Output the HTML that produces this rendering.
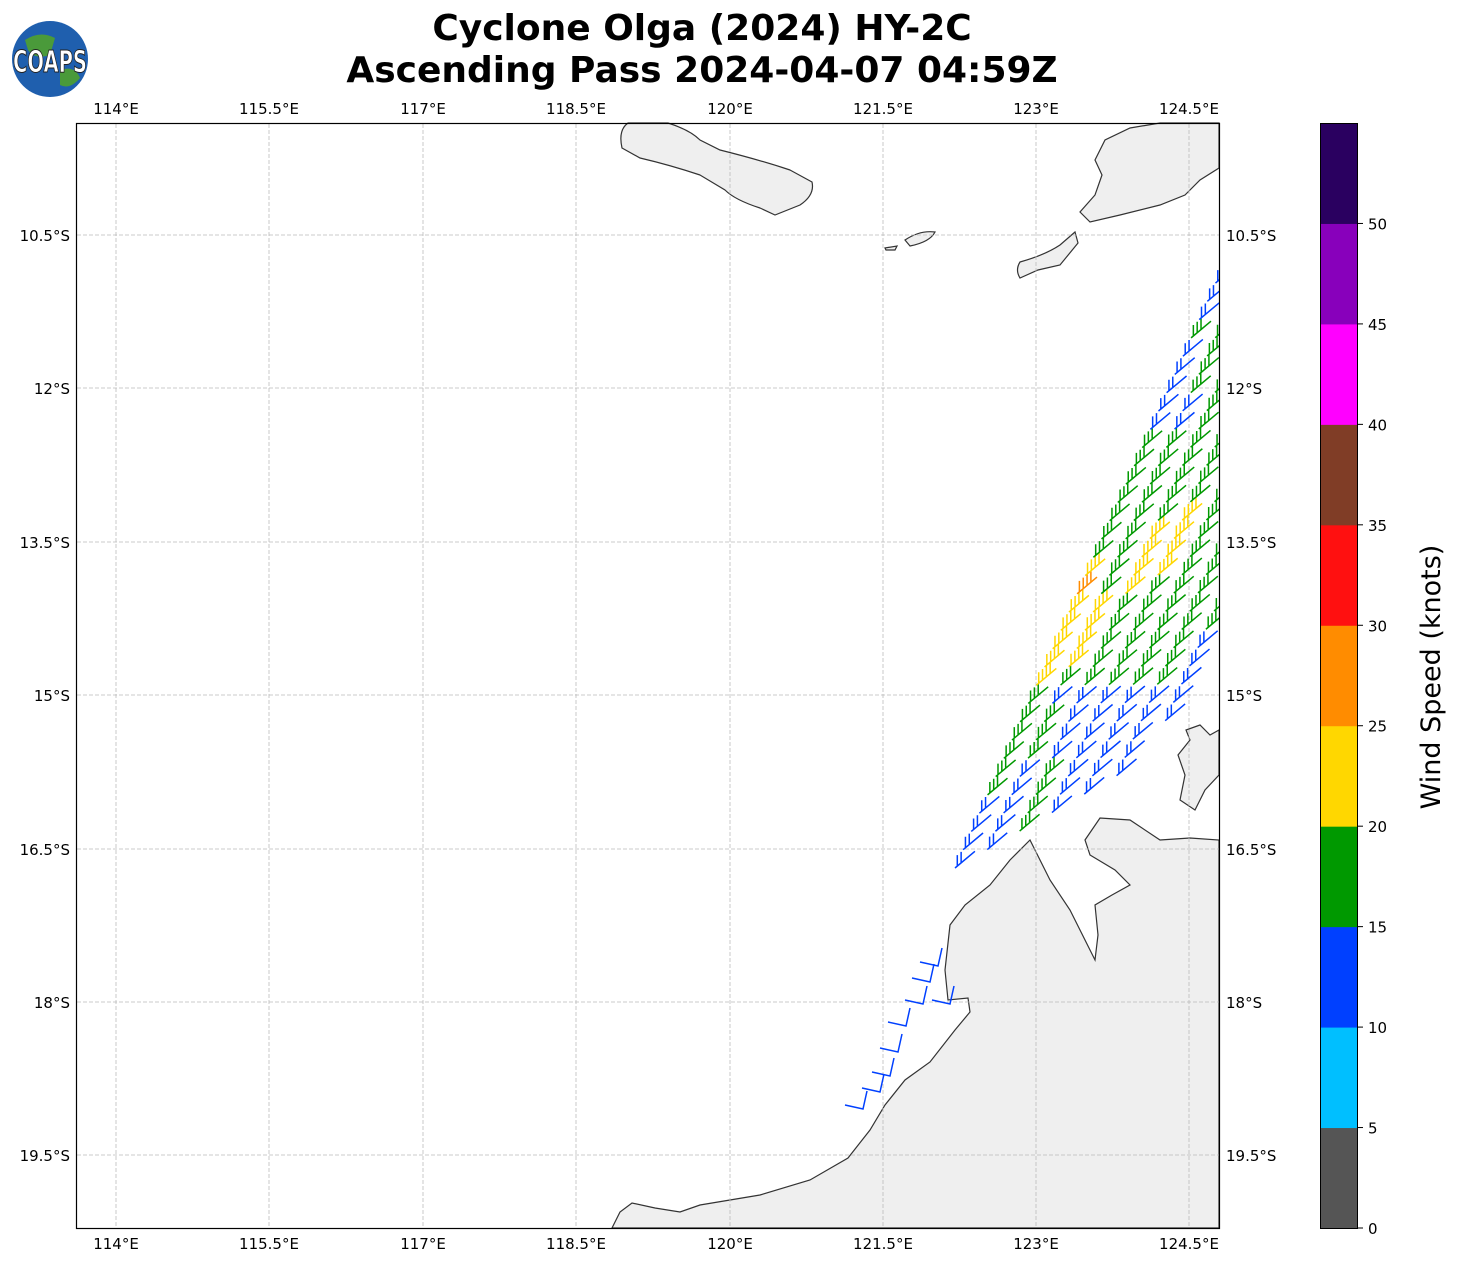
<!DOCTYPE html>
<html><head><meta charset="utf-8"><style>
body{margin:0;background:#fff;width:1457px;height:1264px;overflow:hidden;font-family:"DejaVu Sans",sans-serif}
</style></head><body>
<svg id="s" width="1457" height="1264" xmlns="http://www.w3.org/2000/svg" font-family="DejaVu Sans, sans-serif">
<defs><clipPath id="mc"><rect x="77" y="124" width="1142" height="1104"/></clipPath></defs>
<circle cx="50" cy="59" r="38" fill="#1f5fae"/>
<path d="M25 40 Q40 30 55 38 L50 55 Q35 60 28 50Z M60 70 Q75 65 80 78 Q70 90 60 85Z" fill="#4a9a3a"/>
<text x="50" y="72" font-size="30" font-weight="bold" fill="#fff" stroke="#222" stroke-width="1" text-anchor="middle" textLength="74" lengthAdjust="spacingAndGlyphs">COAPS</text>
<text x="702" y="40" font-size="36" font-weight="bold" text-anchor="middle">Cyclone Olga (2024) HY-2C</text>
<text x="702" y="82" font-size="36" font-weight="bold" text-anchor="middle">Ascending Pass 2024-04-07 04:59Z</text>
<g fill="#efefef" stroke="#333" stroke-width="1.2">
<path d="M628 123 L668 123 Q690 130 700 140 L720 150 Q760 160 790 170 L812 182 Q815 195 800 205 L775 215 L760 208 Q735 200 725 190 L700 175 Q670 165 640 158 L622 148 Q618 130 628 123Z"/>
<path d="M1160 123 L1219 123 L1219 168 L1200 180 L1185 195 L1160 205 L1120 215 L1090 222 L1080 212 L1095 195 L1102 175 L1095 160 L1105 140 L1130 128Z"/>
<path d="M905 240 Q920 230 935 232 Q930 242 910 246Z"/>
<path d="M885 248 L897 246 L895 250 L886 250Z"/>
<path d="M1020 262 Q1045 255 1060 245 L1075 232 L1078 243 L1060 265 L1038 270 L1020 278 Q1015 270 1020 262Z"/>
<path d="M612 1228 L620 1212 L632 1203 L655 1208 L680 1212 L700 1205 L760 1195 L810 1180 L848 1158 L870 1130 L885 1105 L905 1080 L930 1062 L955 1030 L970 1012 L968 998 L948 1000 L945 970 L950 925 L965 905 L990 885 L1010 860 L1030 840 L1040 860 L1050 880 L1070 910 L1085 940 L1095 960 L1098 935 L1095 905 L1112 895 L1130 885 L1115 870 L1090 855 L1085 840 L1100 818 L1130 820 L1160 840 L1190 838 L1219 840 L1219 1228Z"/>
<path d="M1180 800 L1185 775 L1178 755 L1190 740 L1186 730 L1200 725 L1210 735 L1219 730 L1219 775 L1205 790 L1195 810Z"/>
</g>
<g stroke="#bbb" stroke-width="0.8" stroke-dasharray="4,2" id="grid"></g>
<g id="barbs" fill="none" stroke-width="1.5" clip-path="url(#mc)"></g>
<rect x="76.5" y="123.5" width="1143" height="1105" fill="none" stroke="#000" stroke-width="1.2"/>
<g id="labs" font-size="15"></g>
<g id="cb"></g>
<text x="1440" y="677" font-size="27" text-anchor="middle" transform="rotate(-90 1440 677)">Wind Speed (knots)</text>
</svg>
<script>
const NS="http://www.w3.org/2000/svg";
function el(p,t,a,txt){const e=document.createElementNS(NS,t);for(const k in a)e.setAttribute(k,a[k]);if(txt!=null)e.textContent=txt;p.appendChild(e);return e;}
const g=document.getElementById('grid'),L=document.getElementById('labs');
const xs=[116,269,423,576,730,883,1036,1189],xl=["114°E","115.5°E","117°E","118.5°E","120°E","121.5°E","123°E","124.5°E"];
const ys=[235,388,542,695,849,1002,1155],yl=["10.5°S","12°S","13.5°S","15°S","16.5°S","18°S","19.5°S"];
xs.forEach((x,i)=>{el(g,'line',{x1:x,x2:x,y1:124,y2:1228});el(L,'text',{x:x,y:114,'text-anchor':'middle'},xl[i]);el(L,'text',{x:x,y:1249,'text-anchor':'middle'},xl[i]);});
ys.forEach((y,i)=>{el(g,'line',{y1:y,y2:y,x1:77,x2:1219});el(L,'text',{x:70,y:y+6,'text-anchor':'end'},yl[i]);el(L,'text',{x:1226,y:y+6},yl[i]);});
const cb=document.getElementById('cb');
const cols=["#555555","#00bfff","#0040ff","#009900","#ffd700","#ff8c00","#ff1010","#803d26","#ff00ff","#8800bb","#2a0060"];
const h=1105/11;
cols.forEach((c,i)=>el(cb,'rect',{x:1320,y:1228-(i+1)*h,width:38,height:h+0.5,fill:c}));
el(cb,'rect',{x:1320.5,y:123.5,width:37,height:1105,fill:'none',stroke:'#000'});
for(let i=0;i<=10;i++){const y=1228-i*h;el(cb,'line',{x1:1358,x2:1363,y1:y,y2:y,stroke:'#000'});el(cb,'text',{x:1368,y:y+6,'font-size':15},String(i*5));}
function dseg(px,py,x1,y1,x2,y2){const dx=x2-x1,dy=y2-y1;let t=((px-x1)*dx+(py-y1)*dy)/(dx*dx+dy*dy);t=Math.max(0,Math.min(1,t));return Math.hypot(px-x1-t*dx,py-y1-t*dy);}
const B=document.getElementById('barbs');
const ax=0.407,ay=-0.914,cx=0.914,cy=0.407;
const ox=955,oy=868;
for(let r=0;r<9;r++){for(let k=0;k<45;k++){
 const a=k*20+(r%2)*10, c=r*22;
 let x=ox+ax*a+cx*c, y=oy+ay*a+cy*c;
 if(x>1216||y<272)continue;
 let bot = x<1125 ? 868-(x-955)*0.55 : 774-(x-1125)*1.3;
 if(y>bot+2)continue;
 let col="#009900";
 if(y<430 && !(x>1190 && y>330)) col="#0040ff";
 if(x-1000 > (y-700)*-0.9+150 && y>600) col="#0040ff";
 if(y>760 && (r%2==1)) col="#0040ff";
 if(y>810 && x<1000) col="#0040ff";
 if(y>700 && y<760 && x>1050) col="#0040ff";
 if(dseg(x,y,1045,685,1090,580)<10||dseg(x,y,1075,660,1145,545)<10||dseg(x,y,1130,600,1200,510)<10) col="#ffd700";
 if(Math.hypot(x-1085,y-595)<10) col="#ff8c00";
 const n = col=="#0040ff"?2:(col=="#009900"?3:4);
 const ux=Math.cos(40*Math.PI/180), uy=-Math.sin(40*Math.PI/180);
 const ex=x+ux*26, ey=y+uy*26;
 let d=`M${x} ${y} L${ex} ${ey}`;
 for(let i=0;i<n;i++){const t=3+i*5;const bx=x+ux*t,by=y+uy*t;d+=` M${bx} ${by} L${bx} ${by-11}`;}
 el(B,'path',{d:d,stroke:col});
}}
[[845,1105],[862,1088],[872,1072],[880,1048],[888,1022],[905,1000],[912,978],[920,962],[932,1000]].forEach(p=>{
 const [x,y]=p;el(B,'path',{d:`M${x} ${y} L${x+18} ${y+4} L${x+22} ${y-14}`,stroke:'#0040ff'});});
</script>
</body></html>
